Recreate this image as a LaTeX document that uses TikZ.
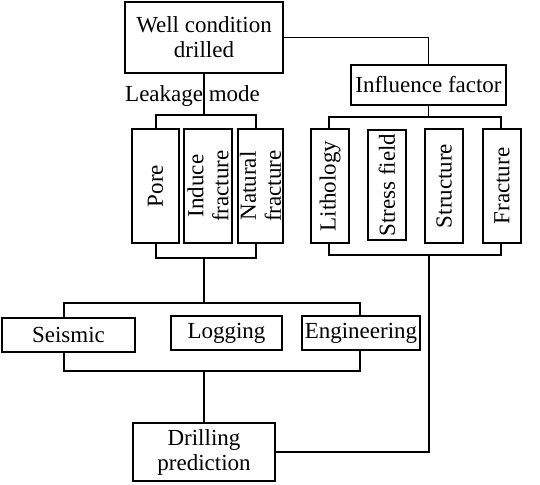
\documentclass[tikz,border=0pt]{standalone}
\usepackage{fontspec}
\setmainfont{Liberation Serif}
\begin{document}
\begin{tikzpicture}[x=1pt,y=-1pt,
  txt/.style={font=\fontsize{23}{25}\selectfont},
  box/.style={txt,draw,line width=1.8pt,inner sep=0pt,align=center},
  vbox/.style={box,rotate=90},
  conn/.style={line width=1.8pt}]
\useasboundingbox (0,0) rectangle (540,484);
% boxes
\node[box,minimum width=158pt,minimum height=71pt] (well) at (204,37.5) {Well condition\\drilled};
\node[box,minimum width=155pt,minimum height=40pt] (infl) at (428.5,85) {Influence factor};
\node[txt,anchor=west,inner sep=0pt] (leak) at (125,96) {Leakage mode};
\node[vbox,minimum width=114pt,minimum height=47pt] (pore) at (155.5,186) {Pore};
\node[vbox,minimum width=114pt,minimum height=48pt] (induce) at (208,186) {Induce\\fracture};
\node[vbox,minimum width=114pt,minimum height=45pt] (natural) at (260.5,186) {Natural\\fracture};
\node[vbox,minimum width=114pt,minimum height=38pt] (litho) at (330,186) {Lithology};
\node[vbox,minimum width=110pt,minimum height=38pt] (stress) at (387,185) {Stress field};
\node[vbox,minimum width=114pt,minimum height=38pt] (struct) at (444,186) {Structure};
\node[vbox,minimum width=114pt,minimum height=38pt] (fract) at (502,186) {Fracture};
\node[box,minimum width=133pt,minimum height=34pt] (seismic) at (68.5,335) {Seismic};
\node[box,minimum width=111pt,minimum height=34pt] (logging) at (226.5,333) {Logging};
\node[box,minimum width=118pt,minimum height=34pt] (engin) at (361,333) {Engineering};
\node[box,minimum width=142pt,minimum height=58pt] (drill) at (204,452) {Drilling\\prediction};
% junction coordinates
\coordinate (lk) at (204,115);
\coordinate (lkL) at (156,115);
\coordinate (lkR) at (256,115);
\coordinate (lb) at (204,258);
\coordinate (lbL) at (156,258);
\coordinate (lbR) at (256,258);
\coordinate (mid) at (204,303);
\coordinate (mL) at (64,303);
\coordinate (mR) at (360,303);
\coordinate (d) at (204,371);
\coordinate (dL) at (64,371);
\coordinate (dR) at (360,371);
\coordinate (iT) at (428.5,117);
\coordinate (iL) at (329,117);
\coordinate (iR) at (501,117);
\coordinate (b) at (429,255);
\coordinate (bL) at (329,255);
\coordinate (bR) at (501,255);
% connectors
\draw[conn] (well.east) -| (infl.north);
\draw[conn] (well.south) -- (lk);
\draw[conn] (lkL |- pore.east) -- (lkL) -- (lkR) -- (lkR |- natural.east);
\draw[conn] (lbL |- pore.west) -- (lbL) -- (lbR) -- (lbR |- natural.west);
\draw[conn] (lb) -- (mid);
\draw[conn] (mL |- seismic.north) -- (mL) -- (mR) -- (mR |- engin.north);
\draw[conn] (dL |- seismic.south) -- (dL) -- (dR) -- (dR |- engin.south);
\draw[conn] (d) -- (d |- drill.north);
\draw[conn] (infl.south) -- (iT);
\draw[conn] (iL |- litho.east) -- (iL) -- (iR) -- (iR |- fract.east);
\draw[conn] (bL |- litho.west) -- (bL) -- (bR) -- (bR |- fract.west);
\draw[conn] (drill.east) -| (b);
\end{tikzpicture}
\end{document}
